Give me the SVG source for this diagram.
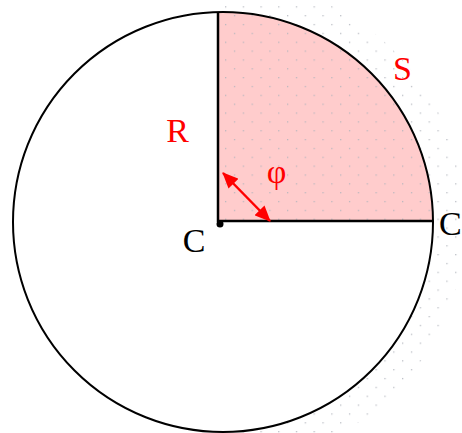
<svg xmlns="http://www.w3.org/2000/svg" width="462" height="433" viewBox="0 0 462 433">
<style>
text{font-family:'Liberation Serif','Times New Roman',serif;font-size:34px;}
.red{fill:#ff0000;}
.blk{fill:#000000;}
.outline{fill:none;stroke:#000;stroke-width:2;}
</style>
<defs>
<pattern id="dots" patternUnits="userSpaceOnUse" x="8.7" y="2.3" width="17.7" height="17.7">
<rect x="4" y="4" width="1.2" height="1.2" fill="#b0b4bc"/>
<rect x="12.85" y="12.85" width="1.2" height="1.2" fill="#b0b4bc"/>
</pattern>
<marker id="ah" viewBox="0 0 16 14" refX="15" refY="7" markerUnits="userSpaceOnUse" markerWidth="16" markerHeight="14" orient="auto-start-reverse">
<path d="M0,0 L16,7 L0,14 Z" fill="#ff0000"/>
</marker>
<clipPath id="ring"><path d="M210,-20 L462,-20 L462,460 L210,460 Z M223,12 A210,210 0 1 0 223.01,12 Z" clip-rule="evenodd"/></clipPath>
</defs>
<rect width="462" height="433" fill="#ffffff"/>
<g id="background-dots" clip-path="url(#ring)">
<circle cx="223" cy="222" r="226" fill="none" stroke="url(#dots)" stroke-width="32"/>
</g>
<g id="sector">
<path d="M218,221 L218,12.06 A210,210 0 0 1 433,221 Z" fill="#ffcccc"/>
<path d="M218,221 L218,12.06 A210,210 0 0 1 433,221 Z" fill="url(#dots)"/>
</g>
<g id="circle">
<circle cx="223" cy="222" r="210" class="outline"/>
</g>
<g id="radii">
<line x1="218" y1="12" x2="218" y2="222" stroke="#000" stroke-width="2.5"/>
<line x1="218" y1="221" x2="433" y2="221" stroke="#000" stroke-width="2.5"/>
</g>
<g id="center-point">
<circle cx="220" cy="224" r="3.5" fill="#000"/>
</g>
<g id="connectors">
<line x1="223" y1="173" x2="270" y2="221" stroke="#ff0000" stroke-width="2.5" marker-start="url(#ah)" marker-end="url(#ah)"/>
</g>
<g id="labels">
<text class="red" x="177.5" y="142" text-anchor="middle">R</text>
<text class="red" x="402.5" y="80" text-anchor="middle">S</text>
<text class="red" x="276.5" y="183" text-anchor="middle">φ</text>
<text class="blk" x="194" y="252" text-anchor="middle">C</text>
<text class="blk" x="439" y="235" font-size="32">C</text>
</g>
</svg>
